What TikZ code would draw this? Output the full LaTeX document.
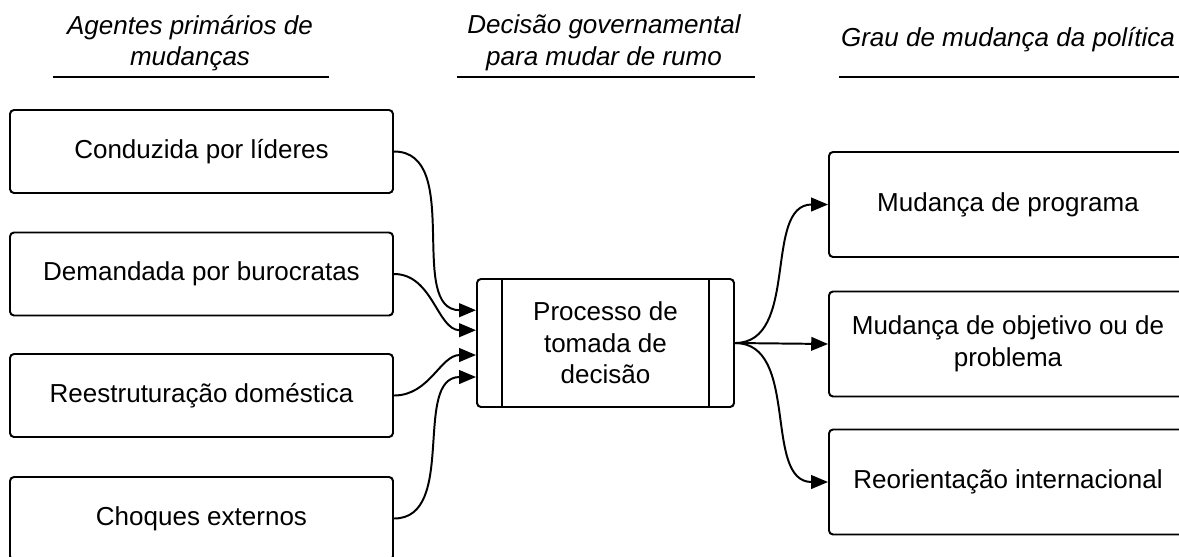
\documentclass[tikz,border=0pt]{standalone}
\usepackage{fontspec}
\setmainfont{Liberation Sans}
\usepackage{tikz}
\usetikzlibrary{arrows.meta}

\begin{document}
\begin{tikzpicture}[
		agentbox/.style={rectangle,rounded corners=0.1cm,draw=black,line width=1.4pt,minimum height=2.075cm,minimum width=9.575cm,font=\fontsize{18.5}{22.5}\selectfont},
		changebox/.style={rectangle,rounded corners=0.1cm,draw=black,line width=1.4pt,minimum height=2.625cm,minimum width=8.95cm,align=center,font=\fontsize{18.5}{22.5}\selectfont},
		header/.style={align=center,font=\fontsize{18.5}{22.5}\selectfont\itshape},
		link/.style={line width=1.4pt,-{Triangle[length=0.42cm,width=0.34cm]}}
	]
		\useasboundingbox (0,0) rectangle (29.475,-13.9);

		\node[header] (H1) at (4.75,-1.075) {Agentes primários de\\mudanças};
		\node[header] (H2) at (15.1,-1.075) {Decisão governamental\\para mudar de rumo};
		\node[header] (H3) at (25.2,-1.0) {Grau de mudança da política};
		\draw[line width=1.4pt] (1.325,-1.925) -- (8.225,-1.925);
		\draw[line width=1.4pt] (11.425,-1.925) -- (18.875,-1.925);
		\draw[line width=1.4pt] (20.975,-1.925) -- (29.6,-1.925);

		\node[agentbox] (A) at (5.0375,-3.7875) {Conduzida por líderes};
		\node[agentbox] (B) at (5.0375,-6.85) {Demandada por burocratas};
		\node[agentbox] (C) at (5.0375,-9.8875) {Reestruturação doméstica};
		\node[agentbox] (D) at (5.0375,-12.9625) {Choques externos};

		\node[rectangle,rounded corners=0.1cm,draw=black,line width=1.4pt,minimum height=3.2cm,minimum width=6.425cm,align=center,font=\fontsize{18.5}{22.5}\selectfont] (P) at (15.1375,-8.575) {Processo de\\tomada de\\decisão};
		\draw[line width=1.4pt] ([xshift=0.65cm]P.north west) -- ([xshift=0.65cm]P.south west);
		\draw[line width=1.4pt] ([xshift=-0.65cm]P.north east) -- ([xshift=-0.65cm]P.south east);

		\node[changebox] (X) at (25.2,-5.1125) {Mudança de programa};
		\node[changebox] (Y) at (25.2,-8.6) {Mudança de objetivo ou de\\problema};
		\node[changebox] (Z) at (25.2,-12.05) {Reorientação internacional};

		\draw[link] (A.east) to[out=0,in=180] ([yshift=0.82cm]P.west);
		\draw[link] (B.east) to[out=0,in=180] ([yshift=0.32cm]P.west);
		\draw[link] (C.east) to[out=0,in=180] ([yshift=-0.3cm]P.west);
		\draw[link] (D.east) to[out=0,in=180] ([yshift=-0.85cm]P.west);

		\draw[link] (P.east) to[out=0,in=180] (X.west);
		\draw[link] (P.east) -- (Y.west);
		\draw[link] (P.east) to[out=0,in=180] (Z.west);
	\end{tikzpicture}
\end{document}
